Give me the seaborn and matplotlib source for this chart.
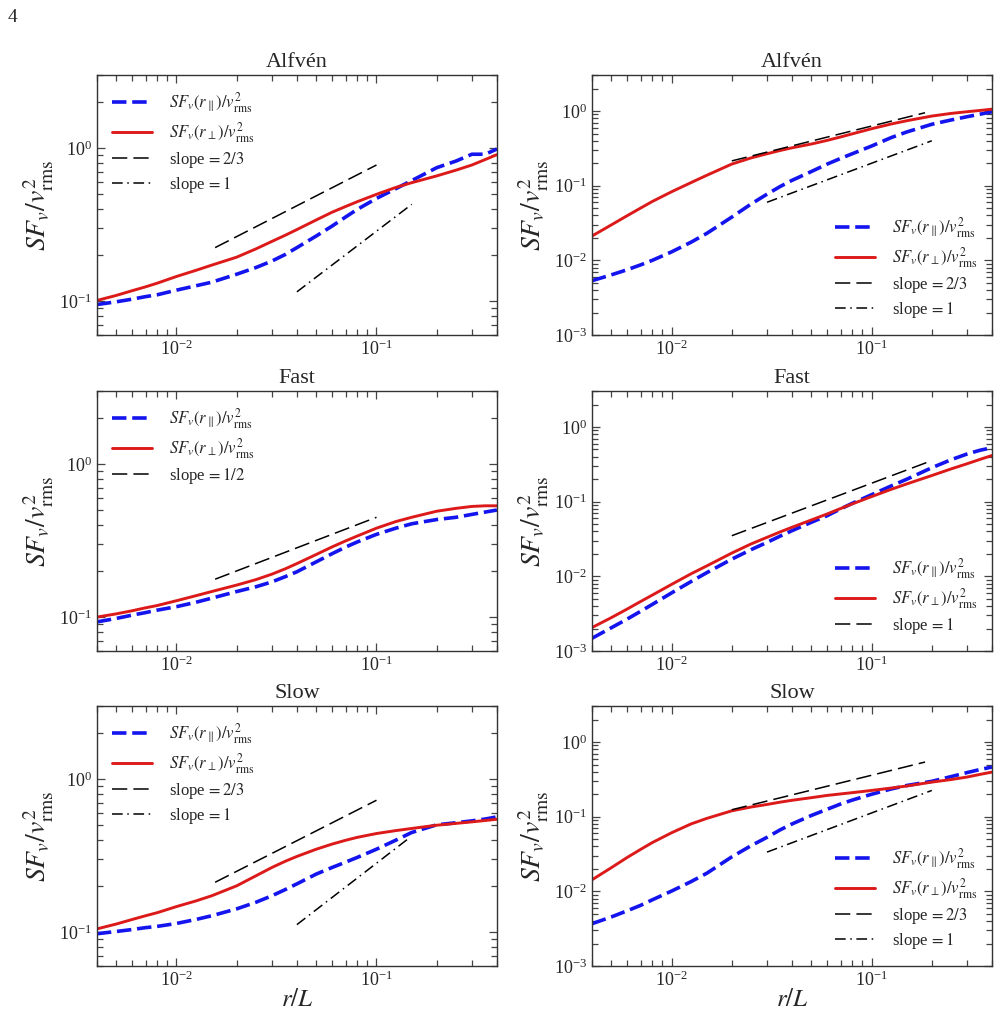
import matplotlib
matplotlib.use('Agg')
import matplotlib.pyplot as plt
import seaborn as sns

# separation r/L where the curves were read
r = [0.004, 0.005, 0.006, 0.007, 0.008, 0.01, 0.0125, 0.015, 0.02, 0.025,
     0.03, 0.035, 0.04, 0.05, 0.06, 0.07, 0.08, 0.1, 0.125, 0.15,
     0.2, 0.25, 0.3, 0.35, 0.4]

# left column
alfven_par_a = [0.095, 0.099, 0.103, 0.107, 0.110, 0.118, 0.126, 0.133, 0.150, 0.166,
                0.183, 0.202, 0.224, 0.267, 0.310, 0.355, 0.398, 0.470, 0.545, 0.615,
                0.747, 0.826, 0.915, 0.915, 0.990]
alfven_perp_a = [0.101, 0.109, 0.117, 0.124, 0.131, 0.145, 0.159, 0.172, 0.194, 0.220,
                 0.246, 0.270, 0.294, 0.340, 0.382, 0.416, 0.447, 0.500, 0.555, 0.596,
                 0.660, 0.720, 0.778, 0.845, 0.910]
fast_par_a = [0.093, 0.098, 0.103, 0.107, 0.111, 0.117, 0.125, 0.133, 0.147, 0.158,
              0.170, 0.184, 0.198, 0.230, 0.260, 0.287, 0.310, 0.348, 0.382, 0.408,
              0.435, 0.450, 0.470, 0.487, 0.502]
fast_perp_a = [0.100, 0.105, 0.110, 0.115, 0.119, 0.128, 0.138, 0.147, 0.162, 0.176,
               0.191, 0.207, 0.224, 0.257, 0.288, 0.315, 0.339, 0.382, 0.422, 0.450,
               0.493, 0.515, 0.530, 0.535, 0.535]
slow_par_a = [0.0976, 0.101, 0.104, 0.107, 0.109, 0.114, 0.121, 0.128, 0.142, 0.157,
              0.173, 0.190, 0.207, 0.240, 0.265, 0.287, 0.308, 0.349, 0.400, 0.449,
              0.504, 0.520, 0.535, 0.550, 0.568]
slow_perp_a = [0.105, 0.113, 0.121, 0.128, 0.134, 0.147, 0.160, 0.173, 0.201, 0.234,
               0.265, 0.291, 0.313, 0.349, 0.377, 0.399, 0.417, 0.442, 0.462, 0.477,
               0.501, 0.515, 0.527, 0.538, 0.548]

# right column
alfven_par_b = [0.00534, 0.0064, 0.0075, 0.0087, 0.0100, 0.0130, 0.0175, 0.023, 0.038, 0.057,
                0.077, 0.098, 0.118, 0.155, 0.195, 0.232, 0.268, 0.340, 0.440, 0.525,
                0.665, 0.760, 0.840, 0.910, 0.980]
alfven_perp_b = [0.0212, 0.0299, 0.0397, 0.0502, 0.0614, 0.083, 0.110, 0.138, 0.195, 0.236,
                 0.268, 0.297, 0.322, 0.362, 0.405, 0.450, 0.495, 0.580, 0.670, 0.742,
                 0.857, 0.930, 0.980, 1.02, 1.06]
fast_par_b = [0.00148, 0.00205, 0.00268, 0.0034, 0.0042, 0.0060, 0.0085, 0.0112, 0.017, 0.0228,
              0.0285, 0.0347, 0.0409, 0.053, 0.065, 0.080, 0.095, 0.124, 0.162, 0.200,
              0.285, 0.365, 0.435, 0.490, 0.528]
fast_perp_b = [0.00206, 0.0028, 0.00365, 0.0046, 0.0056, 0.0078, 0.0108, 0.0138, 0.0205, 0.0272,
               0.0333, 0.0395, 0.0454, 0.0569, 0.0685, 0.081, 0.0933, 0.117, 0.146, 0.173,
               0.224, 0.275, 0.322, 0.370, 0.416]
slow_par_b = [0.00369, 0.00455, 0.0055, 0.0065, 0.0077, 0.0101, 0.0135, 0.0175, 0.029, 0.041,
              0.053, 0.067, 0.080, 0.104, 0.126, 0.148, 0.167, 0.200, 0.235, 0.262,
              0.298, 0.345, 0.390, 0.430, 0.463]
slow_perp_b = [0.0143, 0.0208, 0.0285, 0.0365, 0.045, 0.061, 0.080, 0.095, 0.120, 0.135,
               0.146, 0.157, 0.166, 0.180, 0.193, 0.202, 0.210, 0.225, 0.242, 0.258,
               0.291, 0.315, 0.340, 0.370, 0.396]

# reference power laws: (x ends, y ends)
alfven_a_23 = ([0.0156, 0.1], [0.224, 0.778])
alfven_a_1 = ([0.04, 0.15], [0.115, 0.43])
fast_a_12 = ([0.0156, 0.1], [0.177, 0.45])
slow_a_23 = ([0.0156, 0.1], [0.212, 0.73])
slow_a_1 = ([0.04, 0.147], [0.112, 0.417])
alfven_b_23 = ([0.02, 0.185], [0.215, 0.95])
alfven_b_1 = ([0.03, 0.2], [0.06, 0.4])
fast_b_1 = ([0.02, 0.2], [0.035, 0.355])
slow_b_23 = ([0.02, 0.185], [0.124, 0.54])
slow_b_1 = ([0.03, 0.2], [0.0336, 0.225])

titles = ['Alfvén', 'Fast', 'Slow']

sns.set_style('ticks')
plt.rcParams['font.family'] = ['Liberation Serif', 'DejaVu Serif']
plt.rcParams['mathtext.fontset'] = 'stix'

BLUE = '#1414ee'
RED = '#dc1a1a'
DASH = (0, (10, 4))
DASHDOT = (0, (7, 3, 1, 3))

lab_par = r'$SF_v(r_\parallel)/v^2_{\rm rms}$'
lab_perp = r'$SF_v(r_\perp)/v^2_{\rm rms}$'

panels = [
    (0, 0, alfven_par_a, alfven_perp_a, [('2/3', alfven_a_23, DASH), ('1', alfven_a_1, DASHDOT)], (0.06, 3), 'upper left'),
    (0, 1, alfven_par_b, alfven_perp_b, [('2/3', alfven_b_23, DASH), ('1', alfven_b_1, DASHDOT)], (1e-3, 3), 'lower right'),
    (1, 0, fast_par_a, fast_perp_a, [('1/2', fast_a_12, DASH)], (0.06, 3), 'upper left'),
    (1, 1, fast_par_b, fast_perp_b, [('1', fast_b_1, DASH)], (1e-3, 3), 'lower right'),
    (2, 0, slow_par_a, slow_perp_a, [('2/3', slow_a_23, DASH), ('1', slow_a_1, DASHDOT)], (0.06, 3), 'upper left'),
    (2, 1, slow_par_b, slow_perp_b, [('2/3', slow_b_23, DASH), ('1', slow_b_1, DASHDOT)], (1e-3, 3), 'lower right'),
]

fig = plt.figure(figsize=(9.99, 10.14), dpi=100)
lefts = [0.097, 0.5926]
bottoms = [0.6696, 0.358, 0.0473]

for row, col, par, perp, slopes, ylim, loc in panels:
    ax = fig.add_axes([lefts[col], bottoms[row], 0.4004, 0.256])
    sns.lineplot(x=r, y=par, ax=ax, color=BLUE, lw=2.6, linestyle=(0, (4, 1.6)),
                 label=lab_par, errorbar=None)
    sns.lineplot(x=r, y=perp, ax=ax, color=RED, lw=2.1, label=lab_perp, errorbar=None)
    for slope, (sx, sy), ls in slopes:
        sns.lineplot(x=sx, y=sy, ax=ax, color='black', lw=1.1, linestyle=ls,
                     label=r'slope$\,=%s$' % slope, errorbar=None)
    ax.set_xscale('log')
    ax.set_yscale('log')
    ax.set_xlim(0.004, 0.4)
    ax.set_ylim(*ylim)
    ax.set_title(titles[row], fontsize=16)
    ax.set_ylabel(r'$SF_v/v^2_{\rm rms}$', fontsize=20, labelpad=2)
    ax.set_xlabel(r'$r/L$' if row == 2 else '', fontsize=18, labelpad=-1)
    ax.tick_params(which='both', direction='in', top=True, right=True,
                   labelsize=13, color='#444444', width=0.9)
    ax.tick_params(which='major', length=6)
    ax.tick_params(which='minor', length=4.5)
    for s in ax.spines.values():
        s.set_linewidth(1.0)
        s.set_color('#333333')
    ax.legend(loc=loc, frameon=False, fontsize=12, handlelength=2.4,
              handletextpad=1.0, labelspacing=0.3)

fig.text(0.008, 0.978, '4', fontsize=14)

fig.savefig('out.png', dpi=100)
